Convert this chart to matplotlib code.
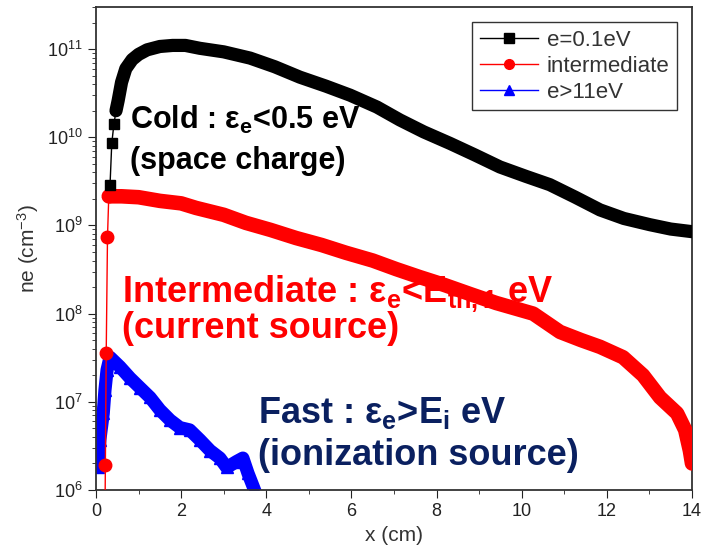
import matplotlib
matplotlib.use("Agg")
import matplotlib.pyplot as plt
from matplotlib.lines import Line2D
from matplotlib.ticker import MultipleLocator

plt.rcParams['font.family'] = ['Liberation Sans', 'DejaVu Sans']
plt.rcParams['mathtext.fontset'] = 'custom'
plt.rcParams['mathtext.rm'] = 'Liberation Sans'
plt.rcParams['mathtext.it'] = 'Liberation Sans:italic'
plt.rcParams['mathtext.bf'] = 'Liberation Sans:bold'

# cold electrons, e=0.1eV
x_cold = [0.33, 0.37, 0.42, 0.47, 0.52, 0.6, 0.7, 0.85, 1.0, 1.2, 1.5, 1.8, 2.1, 2.44,
          3.0, 3.62, 4.2, 4.79, 5.4, 5.97, 6.6, 7.14, 7.7, 8.32, 8.9, 9.49, 10.1,
          10.66, 11.25, 11.84, 12.4, 13.01, 13.5, 14.0]
ne_cold = [2.9e9, 8.5e9, 1.4e10, 2.0e10, 2.6e10, 4.2e10, 6.0e10, 7.6e10, 8.7e10, 9.8e10,
           1.07e11, 1.1e11, 1.1e11, 1.02e11, 9.3e10, 7.9e10, 6.3e10, 4.8e10, 3.8e10,
           3.0e10, 2.2e10, 1.57e10, 1.15e10, 8.5e9, 6.3e9, 4.6e9, 3.6e9, 2.9e9, 2.1e9,
           1.5e9, 1.2e9, 1.02e9, 9.1e8, 8.5e8]

# intermediate electrons
x_mid = [0.2, 0.22, 0.24, 0.27, 0.3, 0.6, 1.0, 1.5, 2.0, 2.35, 3.0, 3.52, 4.1, 4.7, 5.3,
         5.87, 6.5, 7.05, 7.6, 8.2, 8.8, 9.4, 10.27, 10.9, 11.4, 11.84, 12.38, 12.85,
         13.25, 13.65, 13.84, 13.95, 14.0]
ne_mid = [1e5, 1.9e6, 3.6e7, 7.4e8, 2.14e9, 2.14e9, 2.09e9, 1.9e9, 1.78e9, 1.58e9,
          1.32e9, 1.07e9, 8.9e8, 7.2e8, 6.0e8, 4.9e8, 4.0e8, 3.2e8, 2.6e8, 2.1e8, 1.66e8,
          1.32e8, 1.0e8, 6.2e7, 5.0e7, 4.2e7, 3.2e7, 2.0e7, 1.12e7, 7.4e6, 4.8e6, 2.8e6,
          2.0e6]

# fast electrons, e>11eV
x_fast = [0.05, 0.09, 0.17, 0.21, 0.26, 0.33, 0.56, 0.8, 1.03, 1.27, 1.5, 1.74, 1.97,
          2.2, 2.44, 2.68, 2.91, 3.07, 3.3, 3.45, 3.57, 3.7, 3.8]
ne_fast = [1.8e6, 3.7e6, 7.4e6, 1.35e7, 2.3e7, 3.2e7, 2.5e7, 1.86e7, 1.45e7, 1.12e7,
           8.1e6, 6.2e6, 5.1e6, 4.8e6, 3.7e6, 2.8e6, 2.3e6, 1.8e6, 2.1e6, 2.3e6, 1.55e6,
           1.07e6, 8e5]

labels = ["e=0.1eV", "intermediate", "e>11eV"]

fig = plt.figure(figsize=(7.02, 5.6), dpi=100)
ax = fig.add_axes([96/702, 1 - 490/560, 596/702, 483/560])

# thin lines with the isolated markers, then a thick band where the points are dense
ax.plot(x_cold, ne_cold, '-', color='black', lw=1, marker='s', ms=7,
        markevery=[0, 1, 2], zorder=4)
ax.plot(x_cold[3:], ne_cold[3:], '-', color='black', lw=9.5, solid_capstyle='round', zorder=4)
ax.plot(x_mid, ne_mid, '-', color='red', lw=1, marker='o', ms=9,
        markevery=[1, 2, 3, 4], zorder=3)
ax.plot(x_mid[4:], ne_mid[4:], '-', color='red', lw=10.5, solid_capstyle='round', zorder=3)
ax.plot(x_fast, ne_fast, '-', color='blue', lw=9.5, marker='^', ms=8,
        solid_capstyle='round', zorder=2)

ax.set_yscale('log')
ax.set_xlim(0, 14)
ax.set_ylim(1e6, 3e11)
ax.xaxis.set_major_locator(MultipleLocator(2))
ax.xaxis.set_minor_locator(MultipleLocator(1))
ax.tick_params(which='both', direction='out', labelsize=13, colors='#222222')
ax.tick_params(which='major', length=6)
ax.tick_params(which='minor', length=3)
for s in ax.spines.values():
    s.set_linewidth(1.3)
    s.set_color('#333333')

ax.set_xlabel("x (cm)", fontsize=15, color='#333333')
ax.set_ylabel("ne (cm$^{-3}$)", fontsize=15, color='#333333')

# annotations
ax.text(0.8, 1.25e10, "Cold : ε$_\\mathbf{e}$<0.5 eV", fontsize=22, fontweight='bold',
        color='black', zorder=1)
ax.text(0.8, 4.4e9, "(space charge)", fontsize=22, fontweight='bold', color='black', zorder=1)
ax.text(0.61, 1.35e8, "Intermediate : ε$_\\mathbf{e}$<E$_\\mathbf{th,1}$ eV", fontsize=26,
        fontweight='bold', color='red', zorder=1)
ax.text(0.61, 5.3e7, "(current source)", fontsize=26, fontweight='bold', color='red', zorder=1)
ax.text(3.8, 5.8e6, "Fast : ε$_\\mathbf{e}$>E$_\\mathbf{i}$ eV", fontsize=26,
        fontweight='bold', color='#0a2060', zorder=1)
ax.text(3.8, 1.9e6, "(ionization source)", fontsize=26, fontweight='bold',
        color='#0a2060', zorder=1)

handles = [
    Line2D([], [], color='black', lw=1, marker='s', ms=7),
    Line2D([], [], color='red', lw=1, marker='o', ms=7),
    Line2D([], [], color='blue', lw=1, marker='^', ms=7),
]
leg = ax.legend(handles, labels, loc='upper right', bbox_to_anchor=(0.975, 0.969),
                borderaxespad=0, fontsize=16, frameon=True, fancybox=False,
                edgecolor='black', handlelength=2.6, labelspacing=0.22, borderpad=0.35,
                handletextpad=0.4)
leg.get_frame().set_linewidth(1.0)
for t in leg.get_texts():
    t.set_color('#333333')

fig.savefig("out.png", dpi=100)
